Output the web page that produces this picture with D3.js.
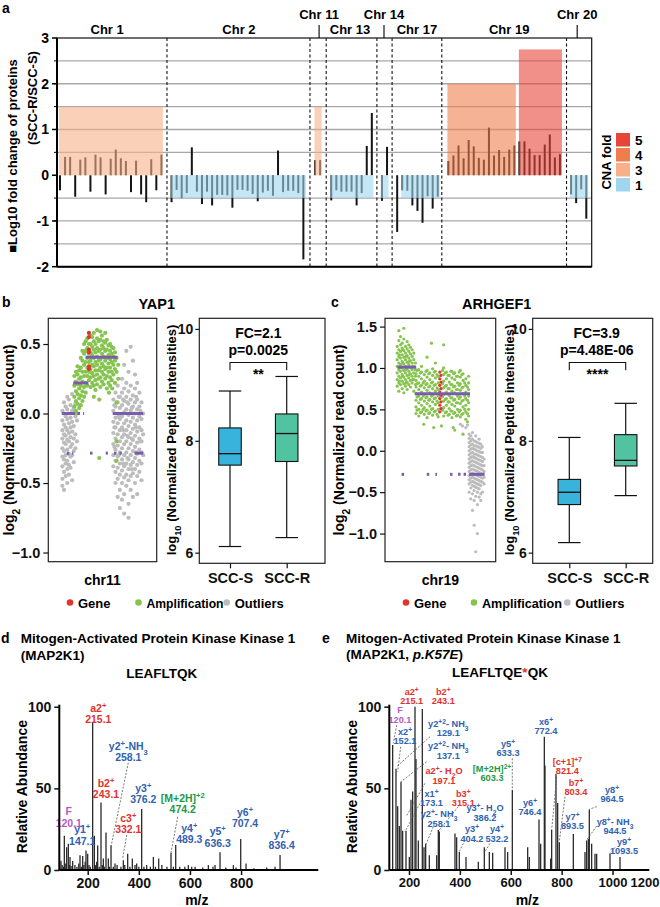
<!DOCTYPE html>
<html>
<head>
<meta charset="utf-8">
<script src="https://cdn.jsdelivr.net/npm/d3@7"></script>
<style>
body { margin: 0; background: #fff; }
text { font-family: "Liberation Sans", Arial, Helvetica, sans-serif; font-weight: bold; }
</style>
</head>
<body>
<svg id="fig" width="660" height="907"></svg>
<script>
// ---------- data: panel a (protein fold change per chromosome) ----------
const chrNames = ["Chr 1", "Chr 2", "Chr 11", "Chr 13", "Chr 14", "Chr 17", "Chr 19", "Chr 20"];
const chrStart = [0, 22, 50.3, 53.5, 63.5, 66.5, 76.6, 100.8];   // slot of first protein
const chrLabelSlot = [9.3, 35.3, 51.1, 57.2, 63.9, 70.4, 88.6, 102];
const chrLabelHigh = [false, false, true, false, true, false, false, true];
const chrDividers = [21.1, 49.3, 52.5, 62.5, 65.5, 75.3, 99.9];
const chrValues = [
  [-0.33, 0.40, 0.40, -0.47, 0.34, 0.39, -0.36, 0.45, 0.39, -0.42, 0.36, 0.56, 0.37, 0.31, -0.37, 0.32, -0.42, -0.59, 0.35, -0.33, 0.45],
  [-0.59, -0.32, -0.5, -0.39, 0.61, -0.36, -0.63, -0.36, -0.66, -0.43, -0.43, -0.44, -0.71, -0.32, -0.32, -0.34, -0.41, -0.57, -0.38, -0.34, -0.45, 0.54, -0.37, -0.34, -0.34, -0.39, -1.84],
  [0.33, 0.33],
  [-0.55, -0.33, -0.36, -0.36, -0.36, -0.66, -0.39, 0.64, 1.36],
  [-0.56, 0.62],
  [-1.24, -0.33, -0.34, -0.66, -0.78, -1.04, -0.46, -0.73, -0.47],
  [0.31, 0.43, 0.65, 0.37, 0.77, 0.63, 0.38, 0.34, 1.04, 0.43, 0.55, 0.40, 0.56, 0.65, 0.74, 0.74, 0.58, 0.44, 0.44, 0.67, 0.89, 0.39, 0.46],
  [-0.42, -0.61, -0.31, -0.95]
];
// CNA segments: [first slot, last slot, CNA fold]
const cnaSegments = [[-0.2, 20.3, 3], [21.9, 48.5, 1], [50.2, 51.6, 3], [53.3, 61.8, 1], [63.3, 64.8, 1],
  [67.3, 74.9, 1], [76.4, 89.9, 4], [90.5, 99.0, 5], [100.6, 104.2, 1]];
const cnaFolds = [5, 4, 3, 1];
const cnaLevel = { 1: -0.5, 3: 1.5, 4: 2.0, 5: 2.75 };
const aTicks = [3, 2, 1, 0, -1, -2];
const aGrid = [2.5, 2, 1.5, 1, 0.5, -0.5, -1, -1.5];

// ---------- data: panels b, c (read counts; "pos: v v v" columns) ----------
const bGray = [
  "13: .02 -.05 -.12 -.18 -.25 -.31 -.38 -.47 -.52", "14.5: .08 0 -.08 -.15 -.21 -.27 -.33 -.42 -.55",
  "16: .05 -.02 -.1 -.16 -.22 -.3 -.36 -.45", "17.5: .12 .03 -.04 -.12 -.19 -.26 -.34 -.4 -.5",
  "19: .1 0 -.07 -.14 -.2 -.29 -.37 -.44", "20.5: .06 -.03 -.1 -.17 -.24 -.31 -.39",
  "22: .14 .02 -.06 -.13 -.22 -.3 -.48", "23.5: .04 -.09 -.18 -.27 -.35", "25: .07 -.02 -.15 -.25", "26.5: -.05 -.2",
  "60: .1 .02 -.06 -.14 -.22 -.3 -.38", "62: .15 .05 -.03 -.1 -.18 -.26 -.34 -.42 -.5",
  "64: .2 .08 0 -.07 -.15 -.23 -.31 -.39 -.47 -.6", "66: .12 .04 -.04 -.12 -.2 -.28 -.36 -.44 -.55 -.68",
  "68: .25 .15 .06 -.02 -.1 -.17 -.25 -.33 -.41 -.5 -.62", "70: .35 .18 .09 .01 -.07 -.15 -.22 -.3 -.38 -.46 -.58 -.72",
  "72: .45 .22 .12 .03 -.05 -.12 -.2 -.28 -.36 -.44 -.52", "74: .3 .16 .07 -.01 -.09 -.17 -.25 -.33 -.4 -.48 -.65 -.75",
  "76: .48 .2 .1 .02 -.06 -.14 -.22 -.3 -.37 -.45 -.55", "78: .38 .13 .05 -.03 -.11 -.19 -.27 -.35 -.43 -.6",
  "80: .28 .18 .08 0 -.08 -.16 -.24 -.32 -.4 -.5", "82: .22 .1 .03 -.05 -.13 -.21 -.29 -.37 -.45 -.58",
  "84: .15 .05 -.02 -.1 -.18 -.26 -.34 -.42", "86: .08 -.04 -.12 -.2 -.28 -.36 -.48", "87.5: 0 -.15 -.3",
  "61: .06 -.1 -.24", "65: .12 -.02 -.3", "69: .1 -.12 -.36", "73: .08 -.16 -.32", "77: .04 -.18 -.4", "81: .12 -.1 -.28", "85: .02 -.2"
];
const bGreen = [
  "24: .05 .12 .2 .27", "25.5: .02 .09 .16 .23 .3", "27: 0 .07 .14 .21 .28 .34", "28.5: .04 .11 .18 .25 .31",
  "30: .06 .13 .2 .26 .33 .4", "31.5: .09 .16 .23 .3 .38 .45", "33: .12 .19 .27 .35 .43 .5", "34.5: .15 .22 .3 .37 .45 .52",
  "36: .2 .27 .33 .4 .47 .54", "37.5: .24 .3 .37 .43 .5", "39: .19 .26 .32 .38 .44 .5 .56", "40.5: .22 .29 .35 .42 .48 .55",
  "42: .12 .2 .27 .34 .4 .46 .52 .58", "43.5: .17 .24 .31 .37 .44 .5", "45: .21 .28 .35 .41 .47 .54 .6", "46.5: .25 .31 .38 .45 .52",
  "47: .1 -.32", "48: .19 .26 .33 .39 .46 .53 .59", "49.5: .23 .3 .36 .43 .49 .56", "51: .21 .28 .34 .41 .47 .52",
  "52.5: .25 .32 .38 .45 .51 .58", "54: .18 .27 .33 .4 .46 .53", "55.5: .22 .3 .36 .42 .49", "56: .15",
  "57: .2 .26 .33 .39 .45 .5", "58.5: .24 .3 .37 .43 .48", "59: .18", "60: .28 .35 .41 .47", "61.5: .22 .32 .38 .44",
  "63: .08 -.2 -.34 .3 .4", "64.5: .25 .35"
];
const bRed = ["37.5: .58 .55 .46 .44 .34 .32"];
// CNV segments: [from, to, level, dotted]
const bSegs = [[12.4, 25, 0, 0], [27, 33, 0, 1], [23, 37, 0.22, 0], [34.5, 63.7, 0.405, 0], [59.4, 87.6, 0, 0],
  [17, 23, -0.285, 1], [38.5, 43, -0.285, 1], [53, 55, -0.285, 1], [60.6, 67.7, -0.285, 1], [79.6, 87.6, -0.285, 0]];

const cGreen = [
  "11: .78 .86 .94 1.02 1.1 1.18 1.26", "12.5: .72 .82 .9 .98 1.06 1.14 1.22 1.33 1.45", "14: .8 .88 .96 1.04 1.12 1.2 1.28 1.38",
  "15.5: .75 .84 .92 1 1.08 1.16 1.24 1.3", "17: .7 .81 .89 .97 1.05 1.13 1.21 1.35 1.48", "18.5: .78 .86 .94 1.02 1.1 1.18 1.26",
  "20: .74 .83 .91 .99 1.07 1.15 1.23 1.32", "21.5: .8 .88 .96 1.04 1.12 1.2 1.28", "23: .77 .85 .93 1.01 1.09 1.17 1.25",
  "24.5: .82 .9 .98 1.06 1.14 1.22", "26: .72 .86 .94 1.02 1.1 1.18", "27.5: .8 .9 .98 1.06",
  "13: .84 1 1.16", "16: .9 1.06 1.22", "19: .82 .98 1.14", "22: .92 1.08", "25: .86 1.02",
  "28: .45 .53 .61 .69 .77 .85 .93", "29: .49 .65 .81 .97", "30.5: .42 .5 .58 .66 .74 .82 .9 .98", "32: .46 .62 .78 .94",
  "33: .47 .55 .63 .71 .79 .87 .95 1.02", "34.5: .5 .66 .82", "35.5: .44 .52 .6 .68 .76 .84 .92", "37: .48 .64 .8 .96",
  "38: .4 .49 .57 .65 .73 .81 .89 .97 1.13", "39.5: .45 .61 .77 .93", "40.5: .46 .54 .62 .7 .78 .86 .94", "42: .5 .66 .82 1.3",
  "43: .43 .51 .59 .67 .75 .83 .91 .99", "44.5: .47 .63 .79 .95", "45.5: .48 .56 .64 .72 .8 .88 .96 1.06", "47: .44 .6 .76 .92",
  "48: .41 .5 .58 .66 .74 .82 .9", "52: .49 .65 .81 .97", "53: .42 .52 .6 .68 .76 .84 .92 1 1.28", "54.5: .46 .62 .78 .94",
  "55.5: .47 .55 .63 .71 .79 .87 .95", "57: .43 .59 .75 .91", "58: .44 .51 .59 .67 .75 .83 .91", "59.5: .48 .64 .8 .96",
  "60.5: .4 .48 .56 .64 .72 .8 .88 .96", "62: .45 .61 .77 .93", "63: .46 .54 .62 .7 .78 .86 .94 .25", "64.5: .42 .58 .74 .9",
  "65.5: .43 .5 .58 .66 .74 .82 .9", "67: .47 .63 .79 .95", "68: .41 .49 .57 .65 .73 .81 .89 .97", "69.5: .44 .6 .76 .92",
  "70.5: .45 .53 .61 .69 .77 .85 .93 .2", "72: .5 .66 .82", "73: .38 .47 .55 .63 .71 .79 .87", "74.5: .45 .61 .77 .35",
  "75.5: .42 .5 .58 .66 .74 .82 .9", "35: .32", "44: .28", "51: .3", "61.7: .28"
];
const cRed = ["49.5: .95 .87 .79 .71 .63 .55 .47", "50.5: .91 .83 .75 .67 .59 .51"];
const cGray = [
  "76: .2 .15 .1 .05 0 -.05 -.1 -.15 -.2 -.25 -.3 -.35 -.4 -.5", "77.5: .18 .12 .07 .02 -.03 -.08 -.13 -.18 -.23 -.28 -.33 -.38 -.45 -.58",
  "79: .22 .14 .08 .03 -.02 -.07 -.12 -.17 -.22 -.27 -.32 -.37 -.42 -.52 -.72",
  "80.5: .12 .06 .02 -.04 -.08 -.13 -.18 -.23 -.28 -.33 -.38 -.43 -.48 -.6 -.9",
  "82: .18 .11 .06 .01 -.04 -.09 -.14 -.19 -.24 -.29 -.34 -.39 -.44 -.55 -1.22",
  "83.5: .1 .05 0 -.05 -.1 -.15 -.2 -.25 -.3 -.35 -.4 -.45 -.5 -.65 -1.0",
  "85: .14 .09 .04 -.01 -.06 -.11 -.16 -.21 -.26 -.31 -.36 -.41 -.46 -.56",
  "86.5: .08 .03 -.02 -.07 -.12 -.17 -.22 -.27 -.32 -.37 -.42 -.52 -.6",
  "88: .05 -.02 -.08 -.13 -.18 -.23 -.28 -.33 -.38 -.5", "89.5: -.1 -.18 -.25 -.32 -.4",
  "68: .32", "70: .3", "73: .28", "74.5: .31"
];
const cSegs = [[11.3, 28.2, 1.01, 0], [27, 76.8, 0.69, 0], [76, 90, -0.285, 0],
  [15, 18, -0.285, 1], [37.7, 42.2, -0.285, 1], [45.5, 47, -0.285, 1], [58.7, 63.2, -0.285, 1], [66, 76, -0.285, 1]];

// ---------- data: boxplots [min, q1, median, q3, max] ----------
const groups = ["SCC-S", "SCC-R"];
const yapStats = [[6.11, 7.565, 7.77, 8.23, 8.89], [6.27, 7.63, 8.13, 8.48, 9.15]];
const arhStats = [[6.18, 6.86, 7.08, 7.31, 8.06], [7.02, 7.55, 7.65, 8.11, 8.67]];
const boxTicks = [6, 8, 10];

// ---------- data: spectra [m/z on axis, relative abundance] ----------
const dPeaks = [[95.5, 5.7], [108.6, 21], [117.7, 14], [124.2, 16], [130.8, 8], [141.2, 5.5], [169.9, 9], [180.3, 8.6],
  [193.3, 12], [199.9, 10], [219.4, 90], [226, 21], [235.1, 5], [239, 15], [252, 41.4], [261.2, 7], [271.6, 23],
  [280.7, 7], [291.2, 15], [306.8, 4], [339.4, 6], [356.4, 10], [374.6, 7], [391.6, 4], [411.1, 37.3], [430.7, 3],
  [456.8, 8], [477.7, 7], [525.9, 10.6], [544.2, 15.3], [593.7, 3], [606.8, 2], [672, 3], [698, 3], [717.6, 10.8],
  [769.8, 3], [798.5, 19], [819.3, 4], [932.8, 2], [952.4, 9.2],
  [100, 3], [105, 2], [112, 4], [128, 3], [135, 2.5], [150, 3], [158, 2], [165, 4], [175, 2], [185, 3], [190, 5],
  [205, 3], [210, 2], [230, 3], [245, 2], [257, 3], [265, 2], [285, 2], [300, 2], [315, 3], [330, 2], [345, 3],
  [365, 2], [385, 3], [400, 2], [420, 2], [445, 2], [465, 2], [490, 3], [510, 2], [535, 2], [560, 2], [580, 2],
  [620, 2], [650, 1.5], [690, 2], [740, 1.5], [780, 1.5], [850, 1], [900, 1.5]];
const ePeaks = [[135.8, 76.5], [148.9, 62], [155.5, 39], [162, 27], [168.6, 54], [175.1, 24], [188.2, 24], [201.3, 8],
  [207.9, 43], [214.4, 48], [223.6, 100], [227.5, 68], [236.7, 18], [252.4, 98.6], [259, 14], [265.5, 16], [279.9, 9],
  [308.8, 9], [315.3, 24.5], [319.2, 23.5], [380.8, 22.4], [387.4, 20], [397.8, 11], [424.1, 8], [472.5, 5], [496.1, 14],
  [515.8, 11], [528.9, 10.6], [577.4, 14], [587.8, 11], [606.2, 49], [666.5, 14], [673, 8], [711, 31], [717.6, 16],
  [732, 81.6], [734.6, 64], [756.9, 7], [760.8, 24.5], [777.8, 59], [784.4, 41], [790.9, 17], [846, 22], [891.8, 11],
  [898.4, 18], [904.9, 19], [908.8, 37], [918, 16], [931.1, 10], [937.7, 10], [990.1, 10], [1029.4, 8]];
// annotations: ion, value, kind, anchor [m/z, abundance]
const dAnn = [
  ["a2^+", "215.1", "b", 241.5, 96.9], ["y2^+-NH_3", "258.1", "y", 358.8, 73.5], ["b2^+", "243.1", "b", 271.6, 51.0],
  ["y3^+", "376.2", "y", 417.5, 47.9], ["[M+2H]^{+2}", "474.2", "M", 571.7, 41.8], ["c3^+", "332.1", "b", 358.8, 29.6],
  ["F", "120.1", "F", 126.0, 33.6], ["y1^+", "147.1", "y", 178.5, 22.5], ["y4^+", "489.3", "y", 597.5, 23.5],
  ["y5^+", "636.3", "y", 708.6, 21.4], ["y6^+", "707.4", "y", 815.4, 33.3], ["y7^+", "836.4", "y", 959, 19.8]];
const dLeaders = [[358.8, 65.7, 291.2, 14.3], [552.1, 32.6, 525.9, 10.6], [352.6, 21.4, 336.9, 7.2]];
const eAnn = [
  ["a2^+", "215.1", "b", 210.6, 107.2], ["b2^+", "243.1", "b", 334.8, 107.2], ["F", "120.1", "F", 164.6, 96.0],
  ["y2^{+2}- NH_3", "129.1", "y", 354.5, 87.8], ["x2^+", "152.1", "y", 184.3, 82.7], ["y2^{+2}- NH_3", "137.1", "y", 354.5, 73.9],
  ["y5^+", "633.3", "y", 589.2, 75.5], ["x6^+", "772.4", "y", 738.5, 88.8], ["[c+1]^{+7}", "821.4", "b", 822.2, 64.3],
  ["a2^+- H_2O", "197.1", "b", 337.6, 58.6], ["[M+2H]^{2+}", "603.3", "M", 526.3, 60.2], ["b7^+", "803.4", "b", 856.4, 51.6],
  ["y8^+", "964.5", "y", 998, 47.3], ["x1^+", "173.1", "y", 288.4, 45.0], ["b3^+", "315.1", "b", 413.4, 45.0],
  ["y6^+", "746.4", "y", 675.6, 39.2], ["y3^+- H_2O", "386.2", "y", 498.7, 36.0], ["y2^+- NH_3", "258.1", "y", 317.9, 32.3],
  ["y7^+", "893.5", "y", 842.7, 30.6], ["y8^+- NH_3", "944.5", "y", 1009.7, 27.6], ["y3^+", "404.2", "y", 447.6, 23.0],
  ["y4^+", "532.2", "y", 545.9, 23.0], ["y9^+", "1093.5", "y", 1045.1, 15.3]];
const eLeaders = [[151.7, 88.8, 138.3, 77.6], [167.4, 75.5, 155.6, 60.2], [282.5, 81.6, 151.7, 63.3], [269.6, 66.3, 168.6, 54.1],
  [262.9, 53.1, 188.2, 32.6], [243.2, 40.8, 184.3, 23.5], [295.5, 26.5, 265.6, 15.3], [393.8, 38.8, 319.1, 24.5],
  [606.1, 68.4, 606.1, 49], [780.6, 57.1, 760.9, 24.5], [813.2, 44.9, 790.9, 17.3], [937.8, 38.8, 908.7, 37.2],
  [937.8, 26.9, 898.5, 18.4], [413.4, 16.3, 397.7, 11.2], [518.4, 16.3, 498, 11], [1009.8, 13.9, 990, 10]];
const mzTicksD = [200, 400, 600, 800];
const mzTicksE = [200, 400, 600, 800, 1000, 1200];

// ---------- helpers ----------
const svg = d3.select("#fig");
const ionColor = { b: "#e2312c", y: "#2f62b0", M: "#1a9a46", F: "#b55bbf" };
const tickFont = "'Liberation Sans', Arial, sans-serif";

function parseCols(rows) {
  const pts = [];
  rows.forEach(r => {
    const [p, vs] = r.split(":");
    vs.trim().split(/\s+/).forEach(v => pts.push([+p, +v]));
  });
  return pts;
}

// text with ^sup and _sub parts
function rich(sel, str) {
  str.split(/(\^\{[^}]*\}|\^.|_\{[^}]*\}|_.)/).filter(s => s).forEach(s => {
    if (s[0] === "^" || s[0] === "_") {
      const t = s[1] === "{" ? s.slice(2, -1) : s.slice(1);
      sel.append("tspan").attr("baseline-shift", s[0] === "^" ? "super" : "sub").attr("font-size", "72%").text(t);
    } else {
      sel.append("tspan").text(s);
    }
  });
  return sel;
}

function label(g, x, y, str, size, anchor, rotate) {
  const t = g.append("text").attr("font-size", size).attr("text-anchor", anchor || "start");
  if (rotate) t.attr("transform", `translate(${x},${y}) rotate(-90)`);
  else t.attr("x", x).attr("y", y);
  return rich(t, str);
}

function styleAxis(a, size, w) {
  a.selectAll("line").attr("stroke", "#111").attr("stroke-width", w || 1.2);
  a.selectAll("text").attr("font-size", size).attr("fill", "#111")
    .style("font-family", tickFont).style("font-weight", "bold");
}

// ---------- panel a ----------
const gA = svg.append("g");
const ax = d3.scaleLinear().domain([0, 103.8]).range([60, 586.3]);
const ay = d3.scaleLinear().domain([-2, 3]).range([266.7, 38]);
const aLeft = 57, aRight = 591.7;
const cnaColor = d3.scaleOrdinal().domain([5, 4, 3, 1]).range(["#e8453a", "#f07e4c", "#f6b08a", "#9fd5ef"]);

gA.selectAll(".grid").data(aGrid).join("line")
  .attr("x1", aLeft).attr("x2", aRight).attr("y1", d => ay(d)).attr("y2", d => ay(d))
  .attr("stroke", "#a8a8a8").attr("stroke-width", 1.3);

const bars = [];
chrValues.forEach((vals, c) => vals.forEach((v, i) => bars.push({ slot: chrStart[c] + i, v })));
gA.selectAll(".bar").data(bars).join("rect")
  .attr("x", d => ax(d.slot) - 1).attr("width", 2)
  .attr("y", d => ay(Math.max(0, d.v))).attr("height", d => Math.abs(ay(d.v) - ay(0)))
  .attr("fill", "#151515");

gA.selectAll(".cna").data(cnaSegments).join("rect")
  .attr("x", d => ax(d[0])).attr("width", d => ax(d[1]) - ax(d[0]))
  .attr("y", d => Math.min(ay(cnaLevel[d[2]]), ay(0)))
  .attr("height", d => Math.abs(ay(cnaLevel[d[2]]) - ay(0)))
  .attr("fill", d => cnaColor(d[2])).attr("opacity", 0.6);

gA.selectAll(".div").data(chrDividers).join("line")
  .attr("x1", d => ax(d)).attr("x2", d => ax(d)).attr("y1", ay(3)).attr("y2", ay(-2))
  .attr("stroke", "#111").attr("stroke-width", 1.1).attr("stroke-dasharray", "3,2.5");

gA.append("rect").attr("x", aLeft).attr("y", ay(3)).attr("width", aRight - aLeft).attr("height", ay(-2) - ay(3))
  .attr("fill", "none").attr("stroke", "#111").attr("stroke-width", 1.2);
gA.append("line").attr("x1", aLeft).attr("x2", aLeft).attr("y1", ay(3)).attr("y2", ay(-2)).attr("stroke", "#000").attr("stroke-width", 2);
gA.append("line").attr("x1", aLeft).attr("x2", aRight).attr("y1", ay(-2)).attr("y2", ay(-2)).attr("stroke", "#000").attr("stroke-width", 2);

gA.selectAll(".mt").data(aGrid).join("line")
  .attr("x1", aLeft - 3).attr("x2", aLeft).attr("y1", d => ay(d)).attr("y2", d => ay(d)).attr("stroke", "#000");
gA.selectAll(".tk").data(aTicks).join("line")
  .attr("x1", aLeft - 5).attr("x2", aLeft).attr("y1", d => ay(d)).attr("y2", d => ay(d)).attr("stroke", "#000").attr("stroke-width", 1.5);
gA.selectAll(".tl").data(aTicks).join("text")
  .attr("x", aLeft - 8).attr("y", d => ay(d) + 5).attr("text-anchor", "end").attr("font-size", 14).text(d => d);

chrNames.forEach((n, i) => {
  const x = ax(chrLabelSlot[i]);
  if (chrLabelHigh[i]) {
    gA.append("text").attr("x", x).attr("y", 19).attr("text-anchor", "middle").attr("font-size", 13).text(n);
    gA.append("line").attr("x1", x).attr("x2", x).attr("y1", 25).attr("y2", ay(3)).attr("stroke", "#000").attr("stroke-width", 1.1);
  } else {
    gA.append("text").attr("x", x).attr("y", 34).attr("text-anchor", "middle").attr("font-size", 13).text(n);
  }
});

label(gA, 17, 156, "\u25A0Log10 fold change of proteins", 13, "middle", true);
label(gA, 37, 98, "(SCC-R/SCC-S)", 13, "middle", true);
gA.append("text").attr("x", 2).attr("y", 13).attr("font-size", 14).text("a");

// CNA legend
label(gA, 611, 162, "CNA fold", 13, "middle", true);
gA.selectAll(".lg").data(cnaFolds).join("rect")
  .attr("x", 616).attr("y", (d, i) => 133 + i * 15).attr("width", 14).attr("height", 13.5)
  .attr("fill", d => cnaColor(d));
gA.selectAll(".lgt").data(cnaFolds).join("text")
  .attr("x", 635).attr("y", (d, i) => 145 + i * 15).attr("font-size", 13.5).text(d => d);

// ---------- panels b, c ----------
function drawCNV(o) {
  const g = svg.append("g");
  const x = d3.scaleLinear().domain([0, 100]).range([o.x0, o.x1]);
  const y = d3.scaleLinear().domain(o.dom).range([561.7, 318.3]);
  const dot = (rows, col) => g.append("g").selectAll("circle").data(parseCols(rows)).join("circle")
    .attr("cx", d => x(d[0])).attr("cy", d => y(d[1])).attr("r", o.r).attr("fill", col);
  dot(o.gray, "#bcbcbc");
  dot(o.green, "#86c44f");
  dot(o.red, "#e3332d");
  g.selectAll(".seg").data(o.segs).join("line")
    .attr("x1", d => x(d[0])).attr("x2", d => x(d[1])).attr("y1", d => y(d[2])).attr("y2", d => y(d[2]))
    .attr("stroke", "#7a5cac").attr("stroke-width", 3)
    .attr("stroke-dasharray", d => d[3] ? "2.5,3" : null);
  g.append("rect").attr("x", o.x0).attr("y", 318.3).attr("width", o.x1 - o.x0).attr("height", 243.4)
    .attr("fill", "none").attr("stroke", "#222").attr("stroke-width", 1.2);
  const axis = g.append("g").attr("transform", `translate(${o.x0},0)`)
    .call(d3.axisLeft(y).tickValues(o.ticks).tickFormat(d3.format(".1f")).tickSize(5).tickPadding(3));
  axis.select(".domain").remove();
  styleAxis(axis, 14.5);
  label(g, o.titleX, 440, "log_2 (Normalized read count)", 14, "middle", true);
  label(g, (o.x0 + o.x1) / 2, 585, o.chr, 14, "middle");
}

function drawBox(o) {
  const g = svg.append("g");
  const x = d3.scalePoint().domain(groups).range(o.cx);
  const y = d3.scaleLinear().domain([5.81, 10.19]).range([563.3, 318.3]);
  const w = 22.5;
  const cols = ["#38b3dc", "#52c3a0"];
  o.stats.forEach((s, i) => {
    const cx = x(groups[i]);
    g.append("line").attr("x1", cx).attr("x2", cx).attr("y1", y(s[0])).attr("y2", y(s[4])).attr("stroke", "#111").attr("stroke-width", 1.2);
    [s[0], s[4]].forEach(v => g.append("line").attr("x1", cx - w / 2).attr("x2", cx + w / 2)
      .attr("y1", y(v)).attr("y2", y(v)).attr("stroke", "#111").attr("stroke-width", 1.2));
    g.append("rect").attr("x", cx - w / 2).attr("width", w).attr("y", y(s[3])).attr("height", y(s[1]) - y(s[3]))
      .attr("fill", cols[i]).attr("stroke", "#111").attr("stroke-width", 1.1);
    g.append("line").attr("x1", cx - w / 2).attr("x2", cx + w / 2).attr("y1", y(s[2])).attr("y2", y(s[2]))
      .attr("stroke", "#111").attr("stroke-width", 1.3);
  });
  g.append("rect").attr("x", o.x0).attr("y", 318.3).attr("width", o.x1 - o.x0).attr("height", 245)
    .attr("fill", "none").attr("stroke", "#222").attr("stroke-width", 1.2);
  const ya = g.append("g").attr("transform", `translate(${o.x0},0)`)
    .call(d3.axisLeft(y).tickValues(boxTicks).tickFormat(d3.format("d")).tickSize(4).tickPadding(2));
  ya.select(".domain").remove();
  const xa = g.append("g").attr("transform", "translate(0,563.3)")
    .call(d3.axisBottom(x).tickSize(5).tickPadding(4));
  xa.select(".domain").remove();
  styleAxis(ya, 14);
  styleAxis(xa, 14.5);
  const x1 = x(groups[0]), x2 = x(groups[1]);
  g.append("path").attr("d", `M${x1},${y(9.26)}V${y(9.4)}H${x2}V${y(9.26)}`).attr("fill", "none").attr("stroke", "#111").attr("stroke-width", 1.1);
  g.append("text").attr("x", (x1 + x2) / 2).attr("y", 379).attr("text-anchor", "middle").attr("font-size", 14).text(o.stars);
  g.append("text").attr("x", o.tx).attr("y", 338).attr("text-anchor", "middle").attr("font-size", 14).text(o.fc);
  g.append("text").attr("x", o.tx).attr("y", 355).attr("text-anchor", "middle").attr("font-size", 14).text(o.p);
  label(g, o.titleX, 440, "log_{10} (Normalized Peptide intensities)", 13, "middle", true);
}

function legendRow(items) {
  const g = svg.append("g");
  const cols = ["#e3332d", "#86c44f", "#bcbcbc"];
  items.forEach((it, i) => {
    g.append("circle").attr("cx", it[0]).attr("cy", 602.5).attr("r", 3.3).attr("fill", cols[i]);
    const t = g.append("text").attr("x", it[0] + 8).attr("y", 607.5).attr("font-size", 13).text(it[1]);
    if (it[2]) t.attr("textLength", it[2]).attr("lengthAdjust", "spacingAndGlyphs");
  });
}

drawCNV({ x0: 48.3, x1: 156.7, dom: [-1.066, 0.685], ticks: [0.5, 0, -0.5, -1], r: 2.1,
  gray: bGray, green: bGreen, red: bRed, segs: bSegs, titleX: 14, chr: "chr11" });
drawBox({ x0: 199.3, x1: 325, cx: [230, 286.7], stats: yapStats, stars: "**", fc: "FC=2.1", p: "p=0.0025", tx: 258.3, titleX: 176 });
svg.append("text").attr("x", 156.7).attr("y", 308.5).attr("text-anchor", "middle").attr("font-size", 14.5).text("YAP1");
svg.append("text").attr("x", 2).attr("y", 307).attr("font-size", 14).text("b");
legendRow([[70, "Gene"], [138.5, "Amplification", 77], [226.7, "Outliers"]]);

drawCNV({ x0: 385, x1: 495.7, dom: [-1.34, 1.6], ticks: [1.5, 1, 0.5, 0, -0.5, -1], r: 1.6,
  gray: cGray, green: cGreen, red: cRed, segs: cSegs, titleX: 344, chr: "chr19" });
drawBox({ x0: 532.7, x1: 652.7, cx: [569.3, 625.7], stats: arhStats, stars: "****", fc: "FC=3.9", p: "p=4.48E-06", tx: 596.7, titleX: 514 });
svg.append("text").attr("x", 496.7).attr("y", 308.5).attr("text-anchor", "middle").attr("font-size", 14.5).text("ARHGEF1");
svg.append("text").attr("x", 331).attr("y", 307).attr("font-size", 14).text("c");
legendRow([[406, "Gene"], [474, "Amplification", 80], [567.3, "Outliers"]]);

// ---------- panels d, e ----------
function drawSpectrum(o) {
  const g = svg.append("g");
  const x = d3.scaleLinear().domain(o.dom).range([o.x0, o.x1]);
  const y = d3.scaleLinear().domain([0, 100]).range([870, 706.7]);
  g.selectAll(".pk").data(o.peaks).join("line")
    .attr("x1", d => x(d[0])).attr("x2", d => x(d[0])).attr("y1", y(0)).attr("y2", d => y(d[1]))
    .attr("stroke", "#2a2a2a").attr("stroke-width", 1.3);
  g.selectAll(".ld").data(o.leaders).join("line")
    .attr("x1", d => x(d[0])).attr("y1", d => y(d[1])).attr("x2", d => x(d[2])).attr("y2", d => y(d[3]))
    .attr("stroke", "#555").attr("stroke-width", 0.8).attr("stroke-dasharray", "2,1.5");
  o.ann.forEach(a => {
    const cx = x(a[3]), cy = y(a[4]);
    label(g, cx, cy, a[0], o.fs, "middle").attr("fill", ionColor[a[2]]);
    label(g, cx, cy + o.gap, a[1], o.fs, "middle").attr("fill", ionColor[a[2]]);
  });
  const ya = g.append("g").attr("transform", `translate(${o.x0},0)`)
    .call(d3.axisLeft(y).tickValues([0, 50, 100]).tickSize(5).tickPadding(3));
  ya.select(".domain").attr("d", `M0,${y(0)}V${y(100) - 2}`);
  const xa = g.append("g").attr("transform", `translate(0,${y(0)})`)
    .call(d3.axisBottom(x).tickValues(o.ticks).tickFormat(d3.format("d")).tickSize(5).tickPadding(3));
  xa.select(".domain").attr("d", `M${o.x0},0H${o.x1}`);
  [ya, xa].forEach(a => {
    a.select(".domain").attr("stroke", "#000").attr("stroke-width", 2);
    styleAxis(a, o.tfs, 1.5);
  });
  ya.selectAll("text").attr("font-size", 14);
  // last label sits past the axis end: keep it inside the picture
  xa.selectAll(".tick").filter(d => x(d) > o.x1).each(function (d) {
    d3.select(this).select("line").remove();
    d3.select(this).select("text").attr("text-anchor", "end").attr("dx", 659 - x(d));
  });
  label(g, o.x0 - 32, 786.7, "Relative Abundance", 14, "middle", true);
  g.append("text").attr("x", (o.x0 + o.x1) / 2 + 8).attr("y", 905).attr("text-anchor", "middle").attr("font-size", 14).text("m/z");
  return g;
}

drawSpectrum({ x0: 59.3, x1: 318.3, dom: [88.9, 1102], peaks: dPeaks, leaders: dLeaders, ann: dAnn, fs: 10.5, gap: 11.5, ticks: mzTicksD, tfs: 14 });
drawSpectrum({ x0: 389.3, x1: 649.3, dom: [122.6, 1144.6], peaks: ePeaks, leaders: eLeaders, ann: eAnn, fs: 9.2, gap: 9.4, ticks: mzTicksE, tfs: 13 });

svg.append("text").attr("x", 1).attr("y", 643).attr("font-size", 14).text("d");
svg.append("text").attr("x", 20.7).attr("y", 643).attr("font-size", 13.5).text("Mitogen-Activated Protein Kinase Kinase 1");
svg.append("text").attr("x", 20.7).attr("y", 660).attr("font-size", 13.5).text("(MAP2K1)");
svg.append("text").attr("x", 161.7).attr("y", 678).attr("text-anchor", "middle").attr("font-size", 13.5).text("LEAFLTQK");

svg.append("text").attr("x", 322).attr("y", 643).attr("font-size", 14).text("e");
svg.append("text").attr("x", 346).attr("y", 643).attr("font-size", 13.5).text("Mitogen-Activated Protein Kinase Kinase 1");
const e2 = svg.append("text").attr("x", 346).attr("y", 658.5).attr("font-size", 13.5);
e2.append("tspan").text("(MAP2K1, ");
e2.append("tspan").attr("font-style", "italic").text("p.K57E");
e2.append("tspan").text(")");
const e3 = svg.append("text").attr("x", 500).attr("y", 677).attr("text-anchor", "middle").attr("font-size", 13.5);
e3.append("tspan").text("LEAFLTQE");
e3.append("tspan").attr("fill", "#e2312c").text("*");
e3.append("tspan").text("QK");
</script>
</body>
</html>
